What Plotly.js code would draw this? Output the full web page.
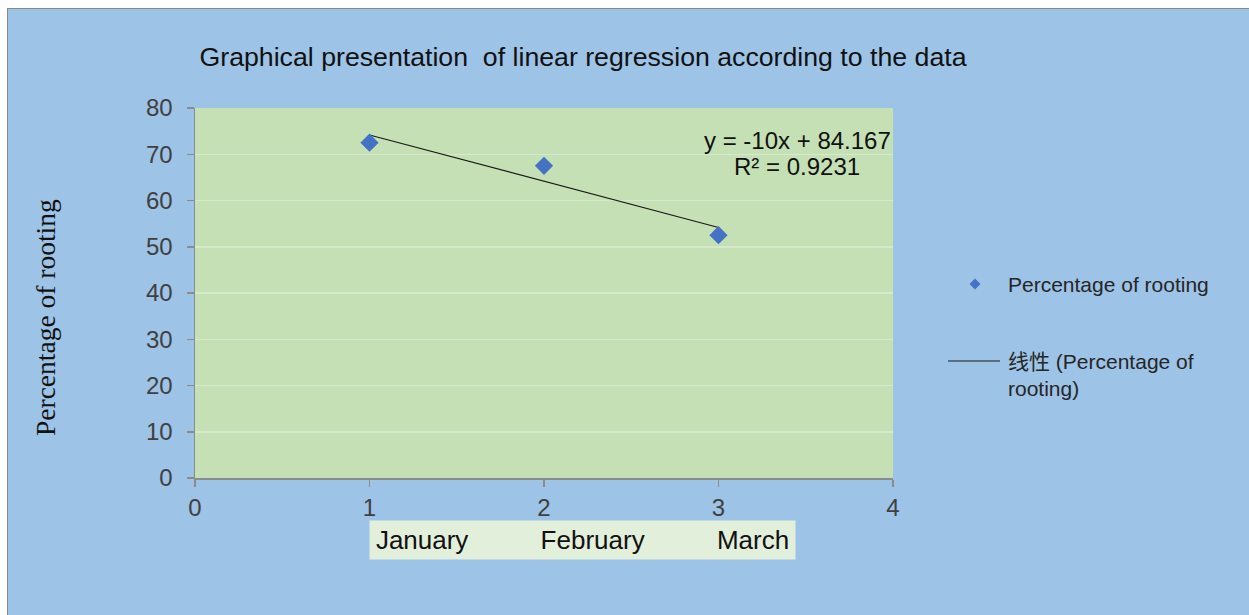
<!DOCTYPE html>
<html>
<head>
<meta charset="utf-8">
<script src="https://cdn.plot.ly/plotly-3.0.1.min.js"></script>
<style>
  html, body { margin: 0; padding: 0; background: #ffffff; width: 1249px; height: 615px; overflow: hidden; }
  #frame { position: absolute; left: 7px; top: 8px; width: 1242px; height: 607px;
           border-left: 1px solid #8a8a8a; border-top: 1px solid #8a8a8a; box-sizing: border-box; background: #9DC3E6; }
  #chart { position: absolute; left: 8px; top: 9px; width: 1241px; height: 606px; }
</style>
</head>
<body>
<div id="frame"></div>
<div id="chart"></div>
<script>
// ---- data ----
const monthIndex = [1, 2, 3];
const months = ['January', 'February', 'March'];
const rootingPct = [72.5, 67.5, 52.5];
const trendSlope = -10;
const trendIntercept = 84.167;
const rSquared = 0.9231;
const xTicks = [0, 1, 2, 3, 4];
const yTicks = [0, 10, 20, 30, 40, 50, 60, 70, 80];
const seriesName = 'Percentage of rooting';
const trendName = '线性 (Percentage of rooting)';
const chartTitle = 'Graphical presentation  of linear regression according to the data';
const yTitle = 'Percentage of rooting';

// trendline spans the data's x range
const trendX = [monthIndex[0], monthIndex[monthIndex.length - 1]];
const trendY = trendX.map(x => trendSlope * x + trendIntercept);

const SANS = 'Liberation Sans, Arial, Noto Sans CJK SC, sans-serif';

const traces = [
  {
    x: trendX, y: trendY, mode: 'lines', name: trendName,
    line: { color: '#1a1a1a', width: 1.2 }, hoverinfo: 'skip'
  },
  {
    x: monthIndex, y: rootingPct, mode: 'markers', name: seriesName,
    marker: { symbol: 'diamond', size: 14, color: '#4472C4', line: { width: 0 } }
  }
];

// pixel helpers for legend placement (paper coords relative to plot area)
const PW = 698, PH = 370;
const dx = 5.5 / PW, dy = 5.5 / PH;
const lgX = 1.1175, lgY = 0.5243;

const layout = {
  width: 1241, height: 606,
  margin: { l: 187, r: 356, t: 99, b: 137, pad: 0 },
  paper_bgcolor: 'rgba(0,0,0,0)',
  plot_bgcolor: '#C5E0B4',
  showlegend: false,
  font: { family: SANS, color: '#404040' },
  title: {
    text: chartTitle,
    font: { family: SANS, size: 26.7, color: '#111111' },
    xref: 'paper', x: 0.5559, xanchor: 'center',
    yref: 'container', y: 0.9208, yanchor: 'middle'
  },
  xaxis: {
    range: [0, 4], tickvals: xTicks, ticktext: xTicks.map(String),
    showgrid: false, zeroline: false,
    showline: true, linecolor: '#8c8c8c', linewidth: 1.5,
    ticks: 'outside', ticklen: 7, tickcolor: '#8c8c8c', tickwidth: 1.5,
    tickfont: { family: SANS, size: 24, color: '#404040' },
    ticklabelstandoff: 1,
    fixedrange: true
  },
  yaxis: {
    range: [0, 80], tickvals: yTicks, ticktext: yTicks.map(String),
    showgrid: true, gridcolor: '#D6E9CB', gridwidth: 1.5,
    zeroline: false,
    showline: true, linecolor: '#8c8c8c', linewidth: 1.5,
    ticks: 'outside', ticklen: 7, tickcolor: '#8c8c8c', tickwidth: 1.5,
    tickfont: { family: SANS, size: 24, color: '#404040' },
    ticklabelstandoff: 9,
    fixedrange: true
  },
  shapes: [
    // legend: diamond marker
    { type: 'path', xref: 'paper', yref: 'paper',
      path: `M ${lgX} ${lgY + dy} L ${lgX + dx} ${lgY} L ${lgX} ${lgY - dy} L ${lgX - dx} ${lgY} Z`,
      fillcolor: '#4472C4', line: { width: 0 } },
    // legend: trendline sample
    { type: 'line', xref: 'paper', yref: 'paper',
      x0: 1.0788, x1: 1.1533, y0: 0.3162, y1: 0.3162,
      line: { color: '#1a1a1a', width: 1.2 } }
  ],
  annotations: [
    // y axis title
    { xref: 'paper', yref: 'paper', x: -0.2149, y: 0.4351, xanchor: 'center', yanchor: 'middle',
      text: yTitle, textangle: -90, showarrow: false,
      font: { family: 'Liberation Serif, Times New Roman, serif', size: 27.5, color: '#111111' } },
    // regression equation
    { xref: 'x', yref: 'y', x: 3.45, y: 73.08, xanchor: 'center', yanchor: 'middle',
      text: `y = ${trendSlope}x + ${trendIntercept}`, showarrow: false,
      font: { family: SANS, size: 24, color: '#111111' } },
    { xref: 'x', yref: 'y', x: 3.45, y: 67.46, xanchor: 'center', yanchor: 'middle',
      text: `R² = ${rSquared}`, showarrow: false,
      font: { family: SANS, size: 24, color: '#111111' } },
    // month label box
    { xref: 'paper', yref: 'paper', x: 0.5552, y: -0.1676, xanchor: 'center', yanchor: 'middle',
      text: months.join('\u00A0'.repeat(10)), showarrow: false,
      bgcolor: '#E2EFDA', borderpad: 4, width: 417, height: 30,
      font: { family: SANS, size: 26, color: '#111111' } },
    // legend texts
    { xref: 'paper', yref: 'paper', x: 1.1619, y: lgY, xanchor: 'left', yanchor: 'middle',
      text: seriesName, showarrow: false, align: 'left',
      font: { family: SANS, size: 21, color: '#262626' } },
    { xref: 'paper', yref: 'paper', x: 1.1619, y: 0.2797, xanchor: 'left', yanchor: 'middle',
      text: '线性 (Percentage of<br>rooting)', showarrow: false, align: 'left',
      font: { family: SANS, size: 21, color: '#262626' } }
  ]
};

Plotly.newPlot('chart', traces, layout, { staticPlot: true, displayModeBar: false });
</script>
</body>
</html>
